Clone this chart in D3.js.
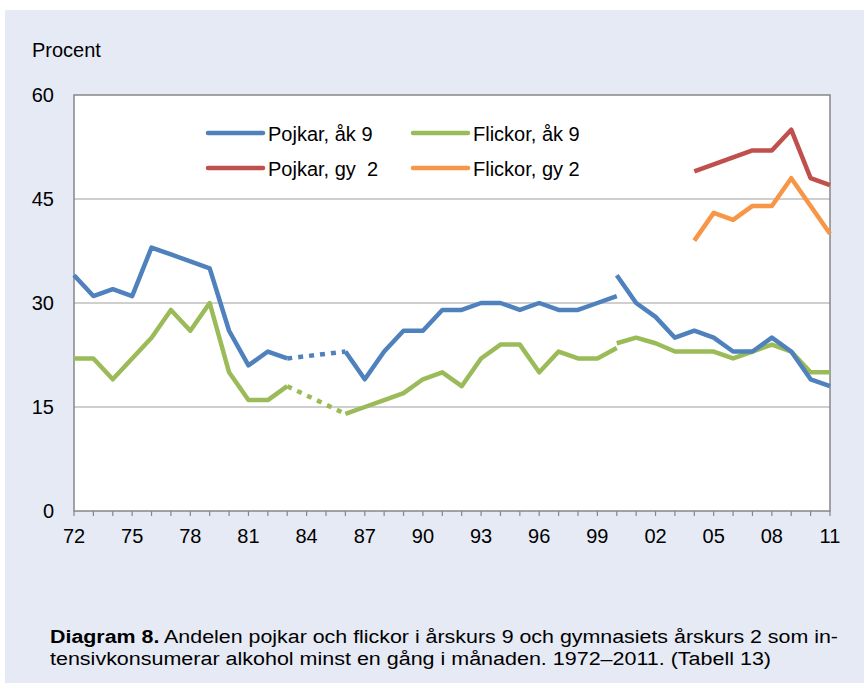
<!DOCTYPE html>
<html><head><meta charset="utf-8">
<script src="https://cdn.jsdelivr.net/npm/d3@7"></script>
<style>body{margin:0;background:#fff;} svg{display:block;} text{white-space:pre;}</style>
</head><body>
<svg id="c" width="864" height="683"></svg>
<script>
// Years for each series
const yearsOld = [1972,1973,1974,1975,1976,1977,1978,1979,1980,1981,1982,1983,1984,1985,1986,1987,1988,1989,1990,1991,1992,1993,1994,1995,1996,1997,1998,1999,2000];
const yearsNew = [2000,2001,2002,2003,2004,2005,2006,2007,2008,2009,2010,2011];
const yearsGy  = [2004,2005,2006,2007,2008,2009,2010,2011];
// Values (percent); null = no survey
const pojkarAk9Old  = [34,31,32,31,38,37,36,35,26,21,23,22,null,null,23,19,23,26,26,29,29,30,30,29,30,29,29,30,31];
const flickorAk9Old = [22,22,19,22,25,29,26,30,20,16,16,18,null,null,14,15,16,17,19,20,18,22,24,24,20,23,22,22,23.5];
const pojkarAk9New  = [34,30,28,25,26,25,23,23,25,23,19,18];
const flickorAk9New = [24.2,25,24.2,23,23,23,22,23,24,23,20,20];
const pojkarGy2  = [49,50,51,52,52,55,48,47];
const flickorGy2 = [39,43,42,44,44,48,44,40];
const yTicks = [0,15,30,45,60];
const xTickYears = [1972,1975,1978,1981,1984,1987,1990,1993,1996,1999,2002,2005,2008,2011];
const xTickLabels = ["72","75","78","81","84","87","90","93","96","99","02","05","08","11"];
const legendLabels = ["Pojkar, åk 9","Flickor, åk 9","Pojkar, gy  2","Flickor, gy 2"];
const colors = ["#4F81BD","#9BBB59","#C0504D","#F79646"];

const svg = d3.select("#c");
const F = "'Liberation Sans', Arial, sans-serif";
svg.append("rect").attr("x",5).attr("y",10).attr("width",864).attr("height",683).attr("fill","#E6EAF5");

const L=74, R=830, T=95, B=511;
const x = d3.scaleLinear().domain([1972,2011]).range([L,R]);
const y = d3.scaleLinear().domain([0,60]).range([B,T]);

svg.append("rect").attr("x",L).attr("y",T).attr("width",R-L).attr("height",B-T).attr("fill","#fff");
// gridlines
svg.selectAll(".g").data(yTicks.filter(v=>v>0&&v<60)).join("line")
  .attr("x1",L).attr("x2",R).attr("y1",d=>y(d)).attr("y2",d=>y(d))
  .attr("stroke","#BFBFBF").attr("stroke-width",1.5);
// frame
svg.append("rect").attr("x",L).attr("y",T).attr("width",R-L).attr("height",B-T)
  .attr("fill","none").attr("stroke","#868686").attr("stroke-width",1.5);

// x axis ticks every year
const allYears = d3.range(1972,2012);
svg.selectAll(".xt").data(allYears).join("line")
  .attr("x1",d=>x(d)).attr("x2",d=>x(d)).attr("y1",B).attr("y2",B+5)
  .attr("stroke","#868686").attr("stroke-width",1.2);
svg.selectAll(".xl").data(xTickYears).join("text")
  .attr("x",d=>x(d)).attr("y",B+32).attr("text-anchor","middle")
  .attr("font-family",F).attr("font-size",20).attr("fill","#000")
  .text((d,i)=>xTickLabels[i]);
svg.selectAll(".yl").data(yTicks).join("text")
  .attr("x",54).attr("y",d=>y(d)+7).attr("text-anchor","end")
  .attr("font-family",F).attr("font-size",20).attr("fill","#000").text(d=>d);
svg.append("text").attr("x",32).attr("y",57).attr("font-family",F).attr("font-size",20).text("Procent");

const line = d3.line().defined(d=>d[1]!=null).x(d=>x(d[0])).y(d=>y(d[1]));
function draw(years, vals, color){
  const pts = years.map((yr,i)=>[yr, vals[i]]);
  // dotted bridges across gaps
  for(let i=0;i<pts.length;i++){
    if(pts[i][1]!=null && i+1<pts.length && pts[i+1][1]==null){
      let j=i+1; while(j<pts.length && pts[j][1]==null) j++;
      if(j<pts.length){
        svg.append("path").attr("d",line([pts[i],pts[j]])).attr("fill","none")
          .attr("stroke",color).attr("stroke-width",4.5).attr("stroke-dasharray","5,6");
      }
    }
  }
  svg.append("path").attr("d",line(pts)).attr("fill","none").attr("stroke",color)
    .attr("stroke-width",4.5).attr("stroke-linejoin","round");
}
draw(yearsOld, flickorAk9Old, colors[1]);
draw(yearsOld, pojkarAk9Old, colors[0]);
draw(yearsNew, flickorAk9New, colors[1]);
draw(yearsNew, pojkarAk9New, colors[0]);
draw(yearsGy, pojkarGy2, colors[2]);
draw(yearsGy, flickorGy2, colors[3]);

// legend
const legPos = [[208,133],[413,133],[208,168],[413,168]];
legendLabels.forEach((lab,i)=>{
  const [lx,ly]=legPos[i];
  svg.append("line").attr("x1",lx).attr("x2",lx+55).attr("y1",ly).attr("y2",ly)
    .attr("stroke",colors[i]).attr("stroke-width",4.5).attr("stroke-linecap","round");
  svg.append("text").attr("x",lx+60).attr("y",ly+7.5).attr("font-family",F).attr("font-size",20)
    .attr("xml:space","preserve").text(lab);
});

// caption
const cap = svg.append("text").attr("x",50).attr("y",643).attr("font-family",F).attr("font-size",18)
  .attr("textLength",788).attr("lengthAdjust","spacingAndGlyphs");
cap.append("tspan").attr("font-weight","bold").text("Diagram 8.");
cap.append("tspan").text(" Andelen pojkar och flickor i årskurs 9 och gymnasiets årskurs 2 som in-");
svg.append("text").attr("x",50).attr("y",665).attr("font-family",F).attr("font-size",18)
  .attr("textLength",721).attr("lengthAdjust","spacingAndGlyphs")
  .text("tensivkonsumerar alkohol minst en gång i månaden. 1972–2011. (Tabell 13)");
</script>
</body></html>
